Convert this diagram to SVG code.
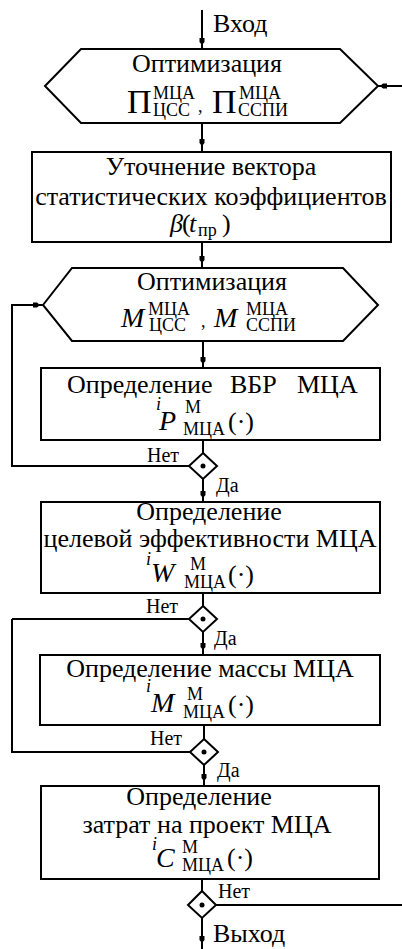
<svg xmlns="http://www.w3.org/2000/svg" xmlns:xlink="http://www.w3.org/1999/xlink" width="402" height="949" viewBox="0 0 402 949" font-family="'Liberation Serif', 'DejaVu Serif', 'Times New Roman', serif">
<style>
.shape{fill:#fff;stroke:#000;stroke-width:2}
.ln{fill:none;stroke:#000;stroke-width:2}
text{font-family:'Liberation Serif','DejaVu Serif','Times New Roman',serif;fill:#000}
.t{font-size:26px;text-anchor:middle}
.lb{font-size:20px}
.io{font-size:26px}
.big{font-size:34px}
.mi{font-size:28px;font-style:italic}
.sm{font-size:18px}
.it{font-style:italic}
</style>
<defs>
<path id="ah" d="M-2.5,-6 L2.5,-6 L2.5,-2 L0,1 L-2.5,-2 Z" fill="#000"/>
</defs>
<rect width="402" height="949" fill="#fff"/>
<g id="connectors">
<path class="ln" d="M202,10 V49"/>
<path class="ln" d="M202,123 V152"/>
<path class="ln" d="M202,242 V268"/>
<path class="ln" d="M203,341 V368"/>
<path class="ln" d="M203,440 V453 M203,479 V502"/>
<path class="ln" d="M189,466 H12 V305 H43"/>
<path class="ln" d="M203,593 V606 M203,632 V655"/>
<path class="ln" d="M189,619 H12"/>
<path class="ln" d="M204,725 V739 M204,765 V786"/>
<path class="ln" d="M190,752 H12 V619"/>
<path class="ln" d="M202,879 V891 M202,918 V949"/>
<path class="ln" d="M216,905 H402"/>
<path class="ln" d="M402,86 H378"/>
<use xlink:href="#ah" transform="translate(202,44)"/>
<use xlink:href="#ah" transform="translate(202,145)"/>
<use xlink:href="#ah" transform="translate(202,262)"/>
<use xlink:href="#ah" transform="translate(203,363)"/>
<use xlink:href="#ah" transform="translate(203,497)"/>
<use xlink:href="#ah" transform="translate(203,649)"/>
<use xlink:href="#ah" transform="translate(204,780)"/>
<use xlink:href="#ah" transform="translate(202,942)"/>
<use xlink:href="#ah" transform="translate(39,305) rotate(-90)"/>
<use xlink:href="#ah" transform="translate(381,86) rotate(90)"/>
<text class="io" x="213" y="32">Вход</text>
<text class="io" x="213" y="942">Выход</text>
<text class="lb" x="147" y="462">Нет</text>
<text class="lb" x="216" y="492">Да</text>
<text class="lb" x="146" y="613">Нет</text>
<text class="lb" x="214" y="645">Да</text>
<text class="lb" x="150" y="745">Нет</text>
<text class="lb" x="217" y="777">Да</text>
<text class="lb" x="218" y="898">Нет</text>
</g>
<g id="opt1">
<polygon class="shape" points="45,86 81,49 340,49 378,86 340,123 81,123"/>
<text class="t" x="207" y="72">Оптимизация</text>
<text class="big" x="127" y="113">П</text>
<text class="sm" x="153" y="99">МЦА</text>
<text class="sm" x="153" y="116">ЦСС</text>
<text class="sm" x="198" y="112">,</text>
<text class="big" x="212" y="113">П</text>
<text class="sm" x="239" y="99">МЦА</text>
<text class="sm" x="238" y="116">ССПИ</text>
</g>
<g id="refine">
<rect class="shape" x="32" y="152" width="359" height="90"/>
<text class="t" x="211" y="175">Уточнение вектора</text>
<text class="t" x="211" y="205">статистических коэффициентов</text>
<text class="io it" x="170" y="232">β</text>
<text class="io" x="182" y="232">(</text>
<text class="io it" x="189" y="232">t</text>
<text class="sm" x="198" y="236">пр</text>
<text class="io" x="222" y="232">)</text>
</g>
<g id="opt2">
<polygon class="shape" points="43,305 72,268 343,268 378,305 343,341 72,341"/>
<text class="t" x="212" y="290">Оптимизация</text>
<text class="mi" x="121" y="327">M</text>
<text class="sm" x="148" y="315">МЦА</text>
<text class="sm" x="149" y="331">ЦСС</text>
<text class="sm" x="201" y="327">,</text>
<text class="mi" x="214" y="327">M</text>
<text class="sm" x="246" y="315">МЦА</text>
<text class="sm" x="246" y="331">ССПИ</text>
</g>
<g id="pbr">
<rect class="shape" x="41" y="368" width="339" height="72"/>
<text class="io" x="67" y="393">Определение</text>
<text class="io" x="230" y="393">ВБР</text>
<text class="io" x="297" y="393">МЦА</text>
<text class="sm it" x="156" y="410">i</text>
<text class="mi" x="159" y="430">P</text>
<text class="sm" x="185" y="413">М</text>
<text class="sm" x="183" y="435">МЦА</text>
<text class="io" x="228" y="430">(·)</text>
</g>
<g id="dec1">
<polygon class="shape" points="203,453 217,466 203,479 189,466"/>
<circle cx="203" cy="466" r="2.5" fill="#000"/>
</g>
<g id="eff">
<rect class="shape" x="41" y="502" width="339" height="91"/>
<text class="t" x="209" y="520">Определение</text>
<text class="t" x="210" y="547">целевой эффективности МЦА</text>
<text class="sm it" x="146" y="565">i</text>
<text class="mi" x="151" y="582">W</text>
<text class="sm" x="190" y="570">М</text>
<text class="sm" x="184" y="588">МЦА</text>
<text class="io" x="228" y="583">(·)</text>
</g>
<g id="dec2">
<polygon class="shape" points="203,606 217,619 203,632 189,619"/>
<circle cx="203" cy="619" r="2.5" fill="#000"/>
</g>
<g id="mass">
<rect class="shape" x="40" y="655" width="340" height="70"/>
<text class="t" x="210" y="677">Определение массы МЦА</text>
<text class="sm it" x="146" y="692">i</text>
<text class="mi" x="151" y="712">M</text>
<text class="sm" x="187" y="700">М</text>
<text class="sm" x="183" y="718">МЦА</text>
<text class="io" x="228" y="713">(·)</text>
</g>
<g id="dec3">
<polygon class="shape" points="204,739 218,752 204,765 190,752"/>
<circle cx="204" cy="752" r="2.5" fill="#000"/>
</g>
<g id="cost">
<rect class="shape" x="41" y="786" width="338" height="93"/>
<text class="t" x="199" y="805">Определение</text>
<text class="t" x="207" y="833">затрат на проект МЦА</text>
<text class="sm it" x="152" y="850">i</text>
<text class="mi" x="156" y="867">C</text>
<text class="sm" x="182" y="853">М</text>
<text class="sm" x="182" y="871">МЦА</text>
<text class="io" x="227" y="866">(·)</text>
</g>
<g id="dec4">
<polygon class="shape" points="202,891 216,905 202,918 188,905"/>
<circle cx="202" cy="905" r="2.5" fill="#000"/>
</g>
</svg>
